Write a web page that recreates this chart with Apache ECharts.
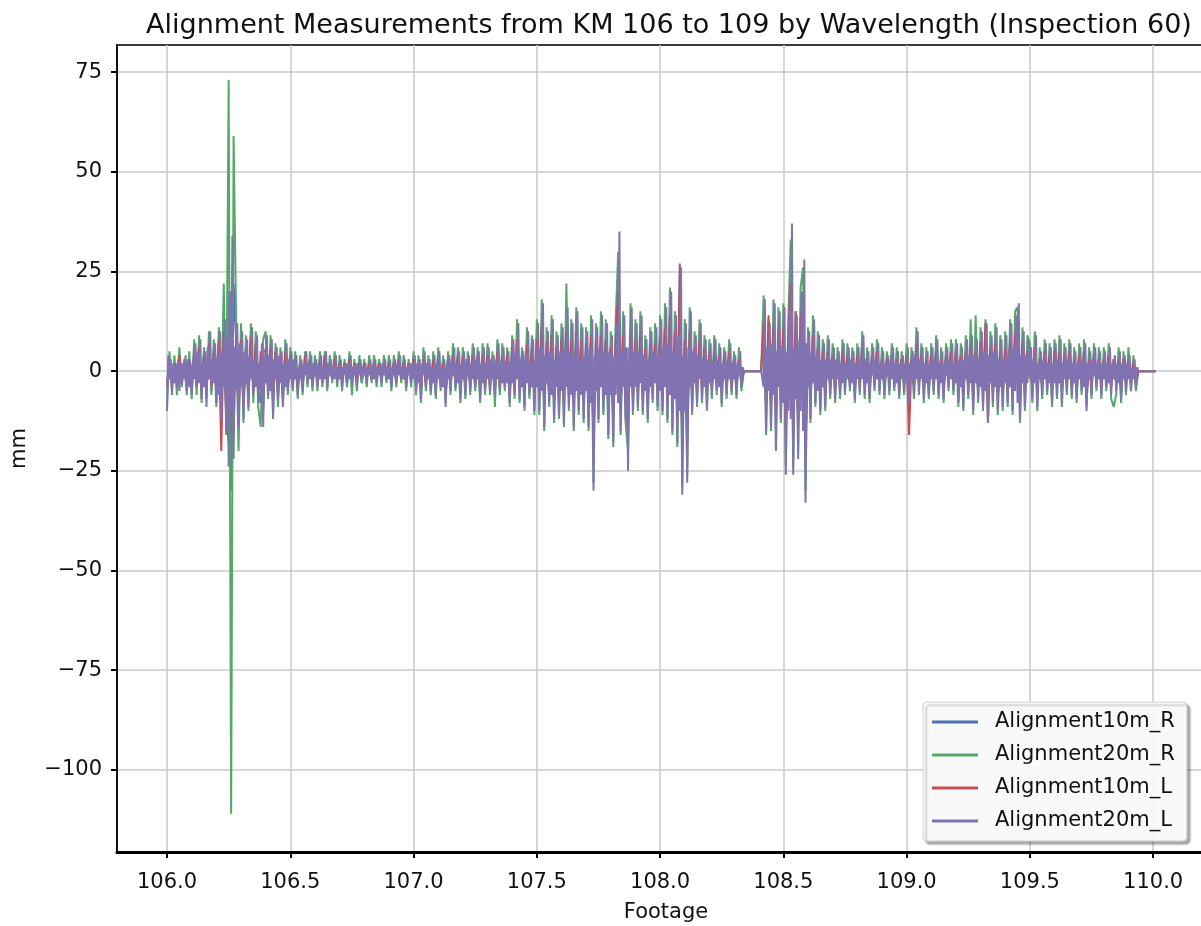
<!DOCTYPE html>
<html>
<head>
<meta charset="utf-8">
<script src="https://cdn.jsdelivr.net/npm/echarts@6/dist/echarts.min.js"></script>
<style>
html,body{margin:0;padding:0;background:#fff;}
#chart{width:1201px;height:926px;}
</style>
</head>
<body>
<div id="chart"></div>
<script>
// ---- data (mm) ----
// R-side and 10m-L series sampled every 0.01 km from 106.00; 20m-L every 0.005 km from 106.00
const footageStart = 106.00;
const stepCoarse = 0.01;
const stepFine = 0.005;
const seriesNames = ['Alignment10m_R', 'Alignment20m_R', 'Alignment10m_L', 'Alignment20m_L'];
const xTicks = [106.0, 106.5, 107.0, 107.5, 108.0, 108.5, 109.0, 109.5, 110.0];
const yTicks = [-100, -75, -50, -25, 0, 25, 50, 75];

const align10mR = [
 -3, 3, -4, 2, -2, 3, -3, 2, -2, 3,
 -5, 4, -4, 5, -4, 5, -5, 6, -3, 6,
 -5, 7, -9, 12, -10, 20, -30, 22, 8, -10,
 7, -8, 5, -6, 8, -4, 6, -5, -8, 5,
 5, -4, 5, -7, 4, -6, 3, -6, 4, -3,
 3, -3, 3, -4, 2, -3, 3, -2, 3, -3,
 2, -3, 2, -2, 3, -3, 2, -2, 3, -2,
 2, -2, 2, -3, 3, -2, 2, -2, 2, -3,
 2, -2, 2, -2, 2, -2, 2, -2, 2, -2,
 2, -2, 2, -3, 3, -2, 2, -2, 2, -2,
 3, -4, 2, -4, 3, -3, 3, -3, 3, -4,
 4, -3, 3, -5, 3, -3, 4, -3, 3, -5,
 3, -4, 3, -3, 4, -4, 3, -4, 4, -3,
 4, -3, 3, -5, 4, -3, 4, -3, 3, -5,
 5, -5, 7, -4, 4, -5, 6, -5, 5, -6,
 7, -6, 10, -8, 6, -5, 8, -7, 6, -7,
 7, -8, 12, -6, 7, -8, 9, -6, 7, -8,
 6, -8, 8, -16, 7, -7, 8, -6, 7, -9,
 6, -10, 7, 18, -9, 8, -7, -13, 9, -6,
 7, -5, 8, -6, 5, -7, 6, -4, 6, -5,
 8, -6, 10, -7, 12, -9, 9, -10, 16, -18,
 7, -15, 9, -6, 5, -5, 7, -4, 5, -5,
 4, -4, 4, -3, 4, -4, 3, -4, 4, -3,
 3, -3, 3, -3, 0, 0, 0, 0, 0, 0,
 0, 0, 11, -9, 8, -8, 10, -11, 9, -7,
 9, -14, 7, 20, -14, 8, -12, 11, 15, -17,
 6, -7, 8, -5, 5, -6, 4, -5, 5, -4,
 4, -4, 3, -4, 4, -3, 4, -3, 3, -4,
 4, -3, 5, -4, 3, -4, 4, -3, 4, -3,
 3, -4, 3, -3, 4, -3, 3, -4, 3, -3,
 4, -5, 3, -4, 6, -3, 4, -4, 3, -4,
 4, -3, 5, -4, 3, -4, 4, -3, 4, -3,
 4, -5, 4, -5, 5, -4, 5, -6, 5, -4,
 6, -5, 7, -7, 5, -5, 6, -6, 5, -5,
 5, -5, 7, -6, 8, 10, -7, 6, -5, 5,
 4, -4, 5, -5, 3, -4, 4, -3, 4, -5,
 4, -4, 5, -5, 4, -3, 4, -4, 3, -4,
 4, -3, 4, -6, 3, -4, 4, -3, 3, -4,
 3, -3, 4, -4, 3, -3, 3, -4, 3, -3,
 3, -3, 2, -3, 0, 0, 0, 0, 0, 0,
 0, 0
];

const align20mR = [
 -8, 5, -5, 4, -6, 6, -4, 3, -6, 5,
 -7, 8, -6, 9, -8, 6, -7, 10, -6, 8,
 -9, 11, -10, 22, -16, 73, -111, 59, 14, -20,
 12, -13, 9, -10, 12, -8, 10, -9, -14, 8,
 10, -7, 9, -11, 7, -9, 6, -8, 8, -6,
 6, -5, 5, -7, 4, -6, 5, -4, 5, -5,
 4, -5, 5, -4, 5, -5, 4, -3, 5, -4,
 4, -5, 3, -4, 5, -6, 3, -5, 4, -3,
 3, -4, 4, -3, 4, -4, 3, -4, 4, -3,
 4, -5, 4, -4, 5, -3, 4, -5, 3, -4,
 5, -6, 4, -8, 6, -5, 4, -6, 5, -7,
 6, -5, 4, -8, 5, -6, 7, -5, 6, -8,
 6, -7, 5, -6, 7, -5, 6, -8, 7, -6,
 7, -6, 5, -9, 8, -6, 7, -5, 6, -9,
 9, -7, 13, -8, 6, -10, 11, -7, 9, -11,
 13, -11, 18, -15, 11, -9, 14, -13, 10, -12,
 12, -14, 22, -10, 13, -15, 16, -11, 12, -13,
 11, -15, 14, -28, 12, -13, 15, -11, 13, -17,
 10, -19, 13, 30, -16, 15, -13, -20, 17, -11,
 13, -10, 15, -11, 9, -13, 11, -8, 12, -10,
 14, -11, 17, -13, 21, -16, 15, -19, 25, -29,
 13, -26, 16, -11, 10, -9, 13, -8, 9, -10,
 8, -7, 9, -6, 7, -9, 6, -7, 8, -6,
 5, -7, 6, -5, 0, 0, 0, 0, 0, 0,
 0, 0, 19, -16, 13, -15, 18, -19, 16, -13,
 17, -24, 13, 33, -24, 15, -20, 21, 26, -30,
 11, -13, 14, -9, 10, -11, 8, -10, 9, -7,
 7, -8, 6, -7, 8, -6, 7, -5, 6, -8,
 7, -6, 10, -7, 6, -8, 7, -5, 8, -6,
 6, -7, 5, -6, 7, -5, 6, -7, 5, -6,
 7, -9, 6, -7, 11, -6, 7, -8, 6, -7,
 7, -6, 9, -7, 6, -8, 7, -5, 8, -6,
 8, -9, 7, -10, 9, -7, 13, -11, 14, -8,
 11, -10, 13, -12, 10, -9, 12, -11, 9, -10,
 10, -9, 13, -11, 15, 16, -13, 11, -10, 9,
 7, -8, 10, -10, 6, -7, 8, -6, 7, -9,
 8, -7, 9, -9, 7, -6, 8, -7, 6, -8,
 7, -6, 8, -9, 6, -7, 7, -5, 6, -7,
 6, -5, 7, -7, -9, -6, 6, -8, 5, -6,
 6, -5, 4, -5, 0, 0, 0, 0, 0, 0,
 0, 0
];

const align10mL = [
 -4, 3, -3, 2, -3, 4, -2, 2, -3, 3,
 -4, 5, -3, 6, -5, 4, -6, 7, -4, 5,
 -6, 8, -20, 10, -12, -18, 20, -16, 9, -12,
 8, -9, 6, -7, 9, -5, 7, -6, 5, -10,
 6, -5, 6, -8, 5, -5, 4, -7, 5, -4,
 4, -3, 3, -4, 2, -4, 4, -2, 3, -3,
 2, -3, 3, -2, 4, -3, 2, -2, 3, -2,
 2, -3, 2, -2, 3, -2, 2, -3, 2, -2,
 2, -2, 2, -2, 2, -2, 2, -2, 2, -2,
 2, -3, 2, -2, 3, -2, 2, -3, 2, -2,
 3, -3, 2, -5, 3, -3, 2, -4, 3, -4,
 3, -3, 2, -6, 3, -4, 4, -3, 4, -5,
 4, -4, 3, -4, 4, -3, 4, -5, 4, -4,
 4, -4, 3, -4, 5, -4, 4, -3, 4, -6,
 6, -4, 8, -5, 4, -6, 7, -4, 6, -7,
 8, -7, 11, -9, 7, -6, 9, -8, 6, -8,
 8, -9, 10, -6, 8, -9, 10, -7, 8, -8,
 7, -9, 9, -18, 8, -8, 9, -7, 8, -10,
 6, -12, 8, 20, -10, 9, -8, -15, 10, -7,
 8, -6, 9, -7, 6, -8, 7, -5, 7, -6,
 9, -7, 11, -8, 14, -10, 10, -12, 27, -20,
 8, -18, 10, -7, 6, -6, 8, -5, 6, -6,
 5, -4, 5, -4, 4, -5, 4, -4, 5, -4,
 3, -4, 3, -3, 0, 0, 0, 0, 0, 0,
 0, 0, 12, -10, 14, -9, 11, -13, 10, -8,
 11, -16, 8, 22, -17, 15, -14, 13, 18, -20,
 7, -8, 9, -5, 6, -7, 5, -6, 5, -4,
 4, -5, 3, -4, 5, -3, 4, -3, 3, -5,
 4, -3, 6, -4, 3, -5, 4, -3, 5, -3,
 3, -4, 3, -3, 4, -3, 3, -4, 3, -3,
 4, -16, 3, -4, 7, -3, 4, -5, 3, -4,
 4, -3, 5, -4, 3, -5, 4, -3, 5, -3,
 5, -5, 4, -6, 5, -4, 6, -7, 5, -5,
 7, -6, 12, -13, 6, -5, 7, -7, 5, -6,
 6, -5, 8, -7, 9, 11, -8, 7, -6, 5,
 4, -5, 6, -6, 3, -4, 5, -3, 4, -5,
 5, -4, 5, -5, 4, -3, 5, -4, 3, -5,
 4, -3, 5, -7, 3, -4, 4, -3, 3, -4,
 3, -3, 4, -4, 3, -3, 3, -5, 3, -3,
 3, -3, 2, -3, 0, 0, 0, 0, 0, 0,
 0, 0
];

const align20mL = [
 -10, 4, -2, 3, -6, 2, -3, 2, -4, 3, -5, 2, -3, 2, -2, 4, -5, 3, -4, 2,
 -6, 3, -2, 7, -4, 5, -3, 8, -7, 2, -4, 5, -9, 6, -2, 10, -5, 3, -3, 7,
 -8, 4, -6, 10, -12, 5, -4, 13, -15, 8, -24, 20, -10, 34, -22, 6, -5, 12, -14, 7,
 -4, 10, -12, 5, -3, 8, -9, 4, -2, 11, -6, 3, -4, 9, -8, 2, -5, 7, -14, 4,
 -3, 9, -6, 4, -5, 8, -12, 3, -2, 6, -7, 4, -3, 5, -9, 2, -4, 7, -5, 3,
 -2, 5, -4, 3, -2, 4, -6, 1, -2, 3, -5, 2, -1, 5, -3, 2, -2, 4, -4, 2,
 -1, 3, -4, 2, -2, 4, -3, 1, -2, 5, -4, 2, -1, 3, -2, 1, -2, 4, -3, 1,
 -2, 3, -4, 1, -1, 2, -3, 2, -2, 4, -3, 1, -1, 2, -4, 2, -1, 3, -2, 1,
 -1, 2, -3, 1, -1, 3, -2, 1, -2, 3, -3, 1, -1, 2, -3, 2, -1, 3, -2, 1,
 -2, 3, -4, 1, -1, 3, -3, 2, -1, 4, -2, 1, -2, 3, -4, 1, -1, 2, -3, 2,
 -2, 4, -5, 2, -3, 3, -7, 2, -1, 5, -4, 2, -2, 3, -5, 1, -3, 4, -6, 2,
 -2, 5, -4, 1, -4, 3, -9, 2, -2, 4, -5, 3, -1, 6, -4, 2, -3, 5, -7, 2,
 -2, 5, -6, 3, -1, 4, -5, 2, -2, 6, -4, 3, -2, 5, -7, 2, -3, 6, -5, 2,
 -2, 6, -5, 3, -2, 4, -6, 3, -2, 7, -5, 2, -3, 6, -4, 2, -3, 5, -8, 3,
 -3, 8, -6, 5, -2, 12, -7, 3, -4, 5, -9, 4, -3, 10, -6, 2, -4, 8, -10, 3,
 -4, 12, -10, 6, -5, 17, -14, 4, -3, 10, -8, 5, -6, 13, -12, 3, -4, 9, -11, 5,
 -5, 11, -13, 6, -4, 16, -9, 5, -6, 12, -14, 4, -5, 15, -10, 3, -6, 11, -12, 4,
 -5, 10, -14, 6, -8, 13, -30, 4, -5, 11, -12, 6, -4, 14, -10, 5, -6, 12, -16, 5,
 -6, 9, -18, 4, -6, 12, -8, 35, -15, 5, -4, 14, -12, 6, -25, 6, -4, 16, -10, 5,
 -4, 12, -9, 5, -3, 14, -10, 4, -5, 8, -12, 3, -4, 10, -7, 5, -3, 11, -9, 4,
 -5, 13, -10, 6, -4, 16, -12, 7, -6, 20, -15, 5, -7, 14, -18, 9, -10, 26, -31, 4,
 -10, 12, -28, 6, -4, 15, -10, 5, -3, 9, -8, 4, -2, 12, -7, 3, -4, 8, -9, 3,
 -3, 7, -6, 2, -2, 8, -5, 3, -4, 6, -8, 2, -2, 5, -6, 3, -2, 7, -5, 2,
 -2, 4, -6, 2, -1, 5, -4, 1, 0, 0, 0, 0, 0, 0, 0, 0, 0, 0, 0, 0,
 0, 0, 0, 0, -4, 18, -15, 6, -5, 12, -14, 7, -6, 17, -20, 5, -4, 15, -12, 6,
 -8, 16, -26, 5, -10, 15, -12, 37, -26, 6, -7, 14, -22, 8, -10, 20, -15, 28, -33, 7,
 -4, 10, -12, 5, -3, 13, -8, 4, -5, 9, -10, 3, -4, 7, -9, 3, -2, 8, -6, 3,
 -2, 6, -7, 3, -2, 5, -6, 2, -3, 7, -5, 2, -2, 6, -4, 3, -3, 5, -7, 2,
 -2, 6, -5, 3, -2, 9, -6, 3, -3, 5, -7, 2, -1, 6, -4, 3, -2, 7, -5, 2,
 -2, 5, -6, 2, -1, 4, -5, 3, -2, 6, -4, 2, -3, 5, -6, 2, -2, 4, -5, 2,
 -3, 6, -8, 2, -2, 5, -6, 4, -2, 10, -5, 3, -2, 6, -7, 2, -3, 5, -6, 2,
 -2, 6, -5, 3, -2, 8, -6, 2, -3, 5, -7, 2, -1, 6, -4, 3, -2, 7, -5, 2,
 -3, 7, -8, 3, -4, 6, -9, 3, -2, 8, -6, 4, -3, 9, -10, 4, -3, 8, -7, 3,
 -4, 10, -9, 5, -5, 12, -13, 4, -3, 9, -8, 5, -4, 11, -10, 3, -4, 8, -9, 3,
 -3, 9, -8, 4, -4, 12, -10, 6, -5, 14, -8, 17, -12, 4, -3, 10, -9, 4, -3, 8,
 -2, 6, -7, 3, -3, 9, -9, 2, -2, 5, -6, 3, -2, 7, -5, 2, -3, 6, -8, 2,
 -3, 7, -6, 3, -3, 8, -8, 2, -2, 6, -5, 3, -2, 7, -6, 2, -3, 5, -7, 2,
 -2, 6, -5, 3, -4, 7, -10, 2, -2, 5, -6, 3, -1, 6, -4, 2, -2, 5, -6, 2,
 -2, 5, -4, 2, -3, 6, -6, 2, -2, 4, -5, 2, -3, 5, -7, 2, -2, 4, -5, 2,
 -2, 4, -5, 1, -2, 3, -4, 1, 0, 0, 0, 0, 0, 0, 0, 0, 0, 0, 0, 0,
 0, 0, 0
];

const seriesValues = [align10mR, align20mR, align10mL, align20mL];
const seriesSteps = [stepCoarse, stepCoarse, stepCoarse, stepFine];
const seriesColors = ['#4C72B0', '#55A868', '#C44E52', '#8172B2'];

// ---- chart ----
const FONT = 'DejaVu Sans';
function pairs(vals, step) {
  return vals.map((v, i) => [+(footageStart + i * step).toFixed(3), v]);
}
const minus = s => String(s).replace('-', '\u2212');

const chart = echarts.init(document.getElementById('chart'), null, {renderer: 'canvas'});
chart.setOption({
  animation: false,
  backgroundColor: '#ffffff',
  title: {
    text: 'Alignment Measurements from KM 106 to 109 by Wavelength (Inspection 60)',
    left: 669, top: 12, textAlign: 'center', padding: 0,
    textStyle: {fontFamily: FONT, fontSize: 27, fontWeight: 'normal', color: '#111'}
  },
  grid: {
    left: 117, top: 45, width: 1098, height: 807,
    outerBoundsMode: 'none', containLabel: false,
    show: true, borderColor: '#3a3a3a', borderWidth: 2, backgroundColor: '#ffffff'
  },
  legend: {
    orient: 'vertical', left: 923, top: 702, align: 'left',
    data: seriesNames, icon: 'rect',
    itemWidth: 46, itemHeight: 3, itemGap: 9,
    padding: [8, 12, 8, 9],
    backgroundColor: 'rgba(255,255,255,0.92)',
    borderColor: '#d0d0d0', borderWidth: 1, borderRadius: 4,
    shadowColor: 'rgba(0,0,0,0.35)', shadowOffsetX: 3, shadowOffsetY: 3, shadowBlur: 2,
    textStyle: {fontFamily: FONT, fontSize: 21, color: '#111', lineHeight: 24, padding: [0, 0, 0, 12]}
  },
  xAxis: {
    type: 'value', min: 105.797, max: 110.251,
    name: 'Footage', nameLocation: 'middle', nameGap: 50,
    nameTextStyle: {fontFamily: FONT, fontSize: 21, color: '#111'},
    axisLine: {show: true, onZero: false, lineStyle: {color: '#000', width: 3}},
    axisTick: {show: true, length: 6, lineStyle: {color: '#000', width: 2}, customValues: xTicks},
    axisLabel: {customValues: xTicks, margin: 20, fontFamily: FONT, fontSize: 21, color: '#111',
      formatter: v => v.toFixed(1)},
    splitLine: {show: true, lineStyle: {color: '#c8c8c8', width: 1.5}}
  },
  yAxis: {
    type: 'value', min: -120.6, max: 81.8,
    name: 'mm', nameLocation: 'middle', nameGap: 87, nameRotate: 90,
    nameTextStyle: {fontFamily: FONT, fontSize: 21, color: '#111'},
    axisLine: {show: true, onZero: false, lineStyle: {color: '#111', width: 2}},
    axisTick: {show: true, length: 6, lineStyle: {color: '#000', width: 2}, customValues: yTicks},
    axisLabel: {customValues: yTicks, margin: 15, fontFamily: FONT, fontSize: 21, color: '#111',
      formatter: v => minus(v)},
    splitLine: {show: true, lineStyle: {color: '#c8c8c8', width: 1.5}}
  },
  series: seriesNames.map((name, k) => ({
    name: name, type: 'line', data: pairs(seriesValues[k], seriesSteps[k]),
    symbol: 'none', showSymbol: false, sampling: null,
    lineStyle: {color: seriesColors[k], width: 2},
    itemStyle: {color: seriesColors[k]},
    z: 2 + k
  }))
});
</script>
</body>
</html>
